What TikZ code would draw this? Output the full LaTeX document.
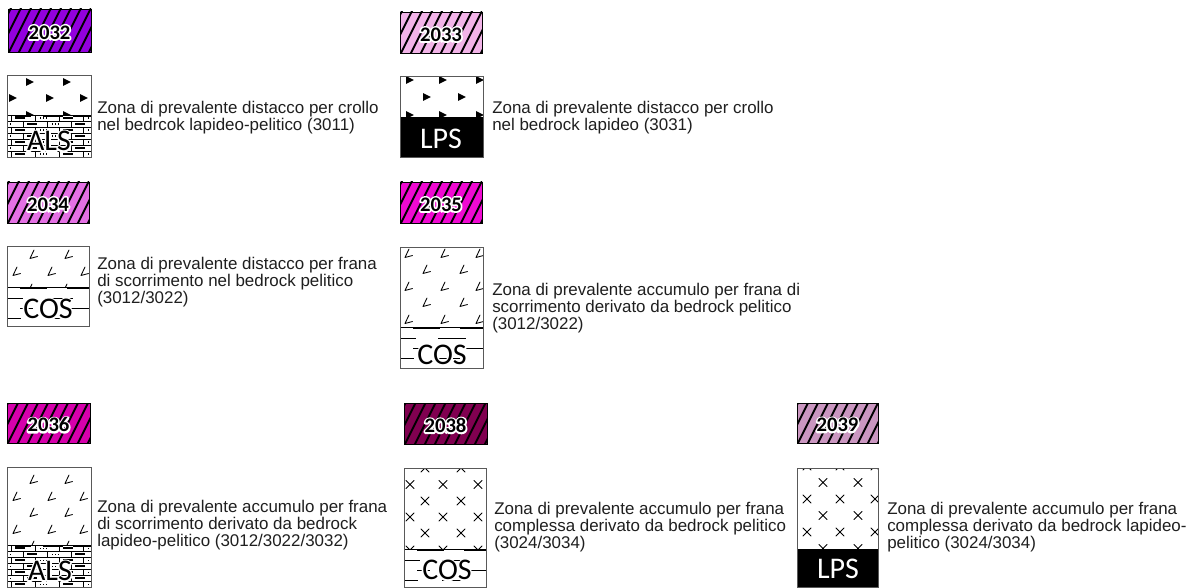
\documentclass[tikz,border=0pt]{standalone}
\usepackage{fontspec}
\setmainfont{Liberation Sans}
\newfontfamily\labfont{Carlito}
\usetikzlibrary{calc}
\definecolor{c2032}{RGB}{146,0,222}
\definecolor{c2033}{RGB}{242,180,232}
\definecolor{c2034}{RGB}{228,112,228}
\definecolor{c2035}{RGB}{240,10,210}
\definecolor{c2036}{RGB}{214,0,172}
\definecolor{c2038}{RGB}{128,0,80}
\definecolor{c2039}{RGB}{202,150,192}
\tikzset{
  desc/.style={anchor=west,align=left,inner sep=0pt,text=black!88,font=\fontsize{12.7}{12.75}\selectfont},
  frame/.style={draw=black!65,line width=0.6pt},
  symline/.style={line width=0.65pt,line cap=round,line join=round},
  hatch/.style={line width=1.45pt},
  thin/.style={line width=0.4pt},
}
% outlined text: white stroked copy under the black text, in one node
\newcommand\haloed[2][2.4]{%
  {\color{white}\special{pdf:literal direct 1 j 1 J #1 w 1 Tr}\rlap{#2}\special{pdf:literal direct 0 Tr}}#2}
\newcommand\halo[5]{%
  \node[font=#4,inner sep=0pt] (#1) at (#2,#3) {\haloed{#5}};}
\newcommand\swatch[7]{%
  \fill[#5] (#1,#2) rectangle (#3,#4);
  \begin{scope}
    \clip (#1,#2) rectangle (#3,#4);
    \foreach \k in {-4,...,9}
      \draw[hatch] ({#1+\k*10},{#4+2}) -- ++(25,-50);
  \end{scope}
  \draw[line width=0.7pt] (#1,#2) rectangle (#3,#4);
  \pgfmathsetmacro\lx{(#1+#3)/2}\pgfmathsetmacro\ly{(#2+#4)/2+2}
  \halo{#7}{\lx}{\ly}{\labfont\bfseries\fontsize{15.5}{15.5}\selectfont}{#6}}
\newcommand\tri[2]{\fill[shift={(#1,#2)}] (-3.8,-3.8) -- (3.8,0) -- (-3.8,3.8) -- cycle;}
\newcommand\lmark[2]{\draw[symline,shift={(#1,#2)}] (2,-5) -- (-2,3.5) -- (5.5,1.5);}
\newcommand\xmark[2]{\draw[symline,shift={(#1,#2)}] (-4,-4) -- (4,4) (-4,4) -- (4,-4);}
\newcommand\alspat[3]{%
  \begin{scope}[shift={(#1,#2)}]
    \clip (0,0) rectangle (#3,42);
    \foreach \i in {0,...,6}{
      \pgfmathsetmacro\yy{\i*6}
      \pgfmathsetmacro\off{mod(\i,2)*12}
      \draw[thin] (0,\yy) -- (#3,\yy);
      \foreach \k in {-1,...,4}{
        \draw[thin] ({\off+4+24*\k},\yy) -- ++(0,6);
      }
      \foreach \k in {-1,1,3}{
        \fill ({\off+9+24*\k},{\yy+2.5}) rectangle ++(1.2,1.2);
        \fill ({\off+12+24*\k},{\yy+2.5}) rectangle ++(1.2,1.2);
        \fill ({\off+15+24*\k},{\yy+2.5}) rectangle ++(1.2,1.2);
      }
      \foreach \k in {0,2}{
        \draw[line width=0.9pt] ({\off+8+24*\k},{\yy+3}) -- ++(10,0);
      }
    }
    \draw[line width=1.2pt] (8,1.2) -- (24,1.2) (36,1.2) -- (56,1.2) (66,1.2) -- (84,1.2);
  \end{scope}}
\newcommand\cospat[3]{%
  \begin{scope}[shift={(#1,#2)}]
    \clip (0,-1) rectangle (#3,42);
    \draw[line width=0.5pt] (0,0) -- (#3,0);
    \draw[line width=1.3pt] (13,1.5) -- (40,1.5) (60,1.5) -- (84,1.5);
    \draw[line width=0.6pt] (0,11) -- (16,11) (38,11) -- (66,11)
      (13,21) -- (26,21) (63,21) -- (84,21) (0,31) -- (14,31) (38,31) -- (60,31);
  \end{scope}}
\begin{document}
\begin{tikzpicture}[x=0.75pt,y=-0.75pt]
\useasboundingbox (0,0) rectangle (1193,588);
\fill[white] (0,0) rectangle (1193,588);
\def\bigfont{\labfont\fontsize{22.5}{22.5}\selectfont}

% ---------- swatches
\swatch{8}{9}{91}{52}{c2032}{2032}{s2032}
\swatch{400}{12}{482}{53}{c2033}{2033}{s2033}
\swatch{7}{182}{89}{223}{c2034}{2034}{s2034}
\swatch{400}{182}{482}{223}{c2035}{2035}{s2035}
\swatch{7}{403}{90}{443}{c2036}{2036}{s2036}
\swatch{404}{403}{487}{444}{c2038}{2038}{s2038}
\swatch{797}{403}{878}{443}{c2039}{2039}{s2039}

% ---------- 2032 symbol
\begin{scope}
  \clip (7,75) rectangle (91,115);
  \foreach \x/\y in {30/82,67/82,13/98,50/98,84/98,30/115,67/115} {\tri{\x}{\y}}
\end{scope}
\alspat{7}{115}{84}
\draw[frame] (7,75) rectangle (91,157);
\halo{als1}{49}{141}{\bigfont}{ALS}
\node[desc] (t2032) at (97,118) {Zona di prevalente distacco per crollo\\nel bedrcok lapideo-pelitico (3011)};

% ---------- 2033 symbol
\begin{scope}
  \clip (400,76) rectangle (483,117);
  \foreach \x/\y in {410/80,443/80,480/80,427/97,462/97,410/115,443/115,480/115} {\tri{\x}{\y}}
\end{scope}
\fill[black] (400,117) rectangle (483,157);
\draw[frame] (400,76) rectangle (483,157);
\node[font=\bigfont,text=white,inner sep=0pt] (lps1) at (441,139) {LPS};
\node[desc] (t2033) at (492,118) {Zona di prevalente distacco per crollo\\nel bedrock lapideo (3031)};

% ---------- 2034 symbol
\begin{scope}
  \clip (7,246) rectangle (89,287);
  \foreach \x/\y in {32/255,67/255,15/272,50/272,83/272,30/289,65/289} {\lmark{\x}{\y}}
\end{scope}
\begin{scope}
  \clip (7,246) rectangle (89,326);
  \cospat{7}{287}{82}
\end{scope}
\draw[frame] (7,246) rectangle (89,326);
\halo{cos1}{48}{309}{\bigfont}{COS}
\node[desc] (t2034) at (97,282.5) {Zona di prevalente distacco per frana\\di scorrimento nel bedrock pelitico\\(3012/3022)};

% ---------- 2035 symbol
\begin{scope}
  \clip (400,247) rectangle (483,327);
  \foreach \y in {254,287,320} {\foreach \x in {407,443,478} {\lmark{\x}{\y}}}
  \foreach \y in {270,303} {\foreach \x in {425,462} {\lmark{\x}{\y}}}
\end{scope}
\begin{scope}
  \clip (400,247) rectangle (483,368);
  \cospat{400}{327}{83}
\end{scope}
\draw[frame] (400,247) rectangle (483,368);
\halo{cos2}{442}{355}{\bigfont}{COS}
\node[desc] (t2035) at (492,308.5) {Zona di prevalente accumulo per frana di\\scorrimento derivato da bedrock pelitico\\(3012/3022)};

% ---------- 2036 symbol
\begin{scope}
  \clip (7,467) rectangle (91,545);
  \foreach \y in {480,513,546} {\foreach \x in {32,67} {\lmark{\x}{\y}}}
  \foreach \y in {464,497,530} {\foreach \x in {15,50,82} {\lmark{\x}{\y}}}
\end{scope}
\alspat{7}{545}{84}
\draw[frame] (7,467) rectangle (91,587);
\halo{als2}{50}{571}{\bigfont}{ALS}
\node[desc] (t2036) at (97,525.5) {Zona di prevalente accumulo per frana\\di scorrimento derivato da bedrock\\lapideo-pelitico (3012/3022/3032)};

% ---------- 2038 symbol
\begin{scope}
  \clip (404,468) rectangle (486,549);
  \foreach \y in {468,501,533} {\foreach \x in {425,461} {\xmark{\x}{\y}}}
  \foreach \y in {484.5,517,550} {\foreach \x in {410,443,478} {\xmark{\x}{\y}}}
\end{scope}
\begin{scope}
  \clip (404,468) rectangle (486,587);
  \cospat{404}{549}{82}
\end{scope}
\draw[frame] (404,468) rectangle (486,587);
\halo{cos3}{447}{570}{\bigfont}{COS}
\node[desc] (t2038) at (494,527.5) {Zona di prevalente accumulo per frana\\complessa derivato da bedrock pelitico\\(3024/3034)};

% ---------- 2039 symbol
\begin{scope}
  \clip (797,468) rectangle (878,549);
  \foreach \y in {466,499,532} {\foreach \x in {807,840,875} {\xmark{\x}{\y}}}
  \foreach \y in {482.5,515.5,548.5} {\foreach \x in {823,858} {\xmark{\x}{\y}}}
\end{scope}
\fill[black] (797,549) rectangle (878,587);
\draw[frame] (797,468) rectangle (878,587);
\node[font=\bigfont,text=white,inner sep=0pt] (lps2) at (838,569) {LPS};
\node[desc] (t2039) at (887,527.5) {Zona di prevalente accumulo per frana\\complessa derivato da bedrock lapideo-\\pelitico (3024/3034)};
\end{tikzpicture}
\end{document}
